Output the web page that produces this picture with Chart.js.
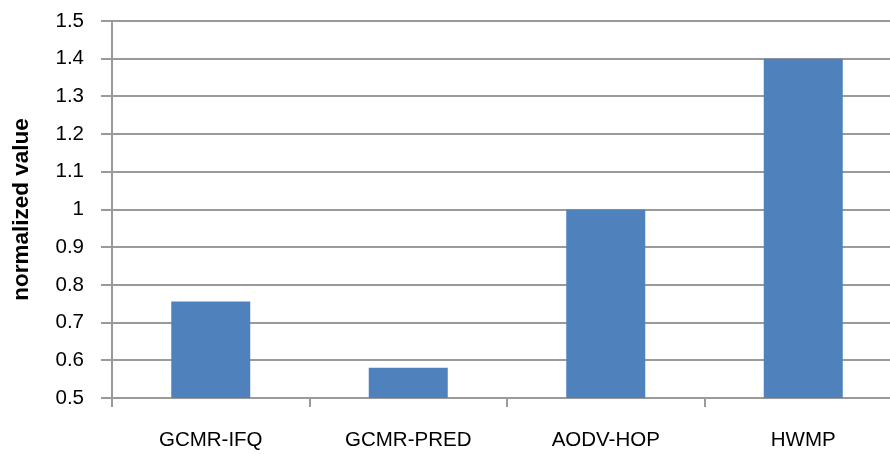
<!DOCTYPE html>
<html>
<head>
<meta charset="utf-8">
<script src="https://cdn.jsdelivr.net/npm/chart.js@4"></script>
<style>
  html, body { margin: 0; padding: 0; background: #fff; overflow: hidden; }
  #wrap { position: relative; width: 904px; height: 454px; }
</style>
</head>
<body>
<div id="wrap"><canvas id="chart"></canvas></div>
<script>
// --- data ---
const categories = ["GCMR-IFQ", "GCMR-PRED", "AODV-HOP", "HWMP"];
const values = [0.756, 0.58, 1.0, 1.4];
const yMin = 0.5, yMax = 1.5, yStep = 0.1;
const yTitle = "normalized value";

const gridGrey = "#9a9a9a";
const font = { family: "'Liberation Sans', Arial, sans-serif", size: 20.5 };

const ctx = document.getElementById("chart").getContext("2d");

new Chart(ctx, {
  type: "bar",
  data: {
    labels: categories,
    datasets: [{
      data: values,
      backgroundColor: "#4F81BD",
      borderWidth: 0,
      barPercentage: 0.4,
      categoryPercentage: 1
    }]
  },
  options: {
    responsive: true,
    maintainAspectRatio: false,
    animation: false,
    layout: { padding: { top: 21, right: 2, left: 0, bottom: 0 } },
    plugins: { legend: { display: false }, tooltip: { enabled: false } },
    scales: {
      x: {
        offset: true,
        grid: {
          offset: true,
          drawOnChartArea: false,
          color: gridGrey,
          lineWidth: 2,
          tickLength: 9
        },
        border: { color: gridGrey, width: 2 },
        ticks: { color: "#000", font, padding: 21 },
        afterFit: s => { s.height = 56; s.paddingLeft = 0; s.paddingRight = 0; }
      },
      y: {
        min: yMin,
        max: yMax,
        grid: { color: gridGrey, lineWidth: 2, tickLength: 11 },
        border: { color: gridGrey, width: 2 },
        ticks: {
          stepSize: yStep,
          color: "#000",
          font,
          padding: 17,
          callback: v => Number(v.toFixed(1)).toString()
        },
        title: {
          display: true,
          text: yTitle,
          color: "#000",
          font: { family: font.family, size: 22.5, weight: "bold" },
          padding: { top: 8, bottom: 0 }
        },
        afterFit: s => { s.width = 112; s.paddingTop = 0; s.paddingBottom = 0; }
      }
    }
  }
});
</script>
</body>
</html>
